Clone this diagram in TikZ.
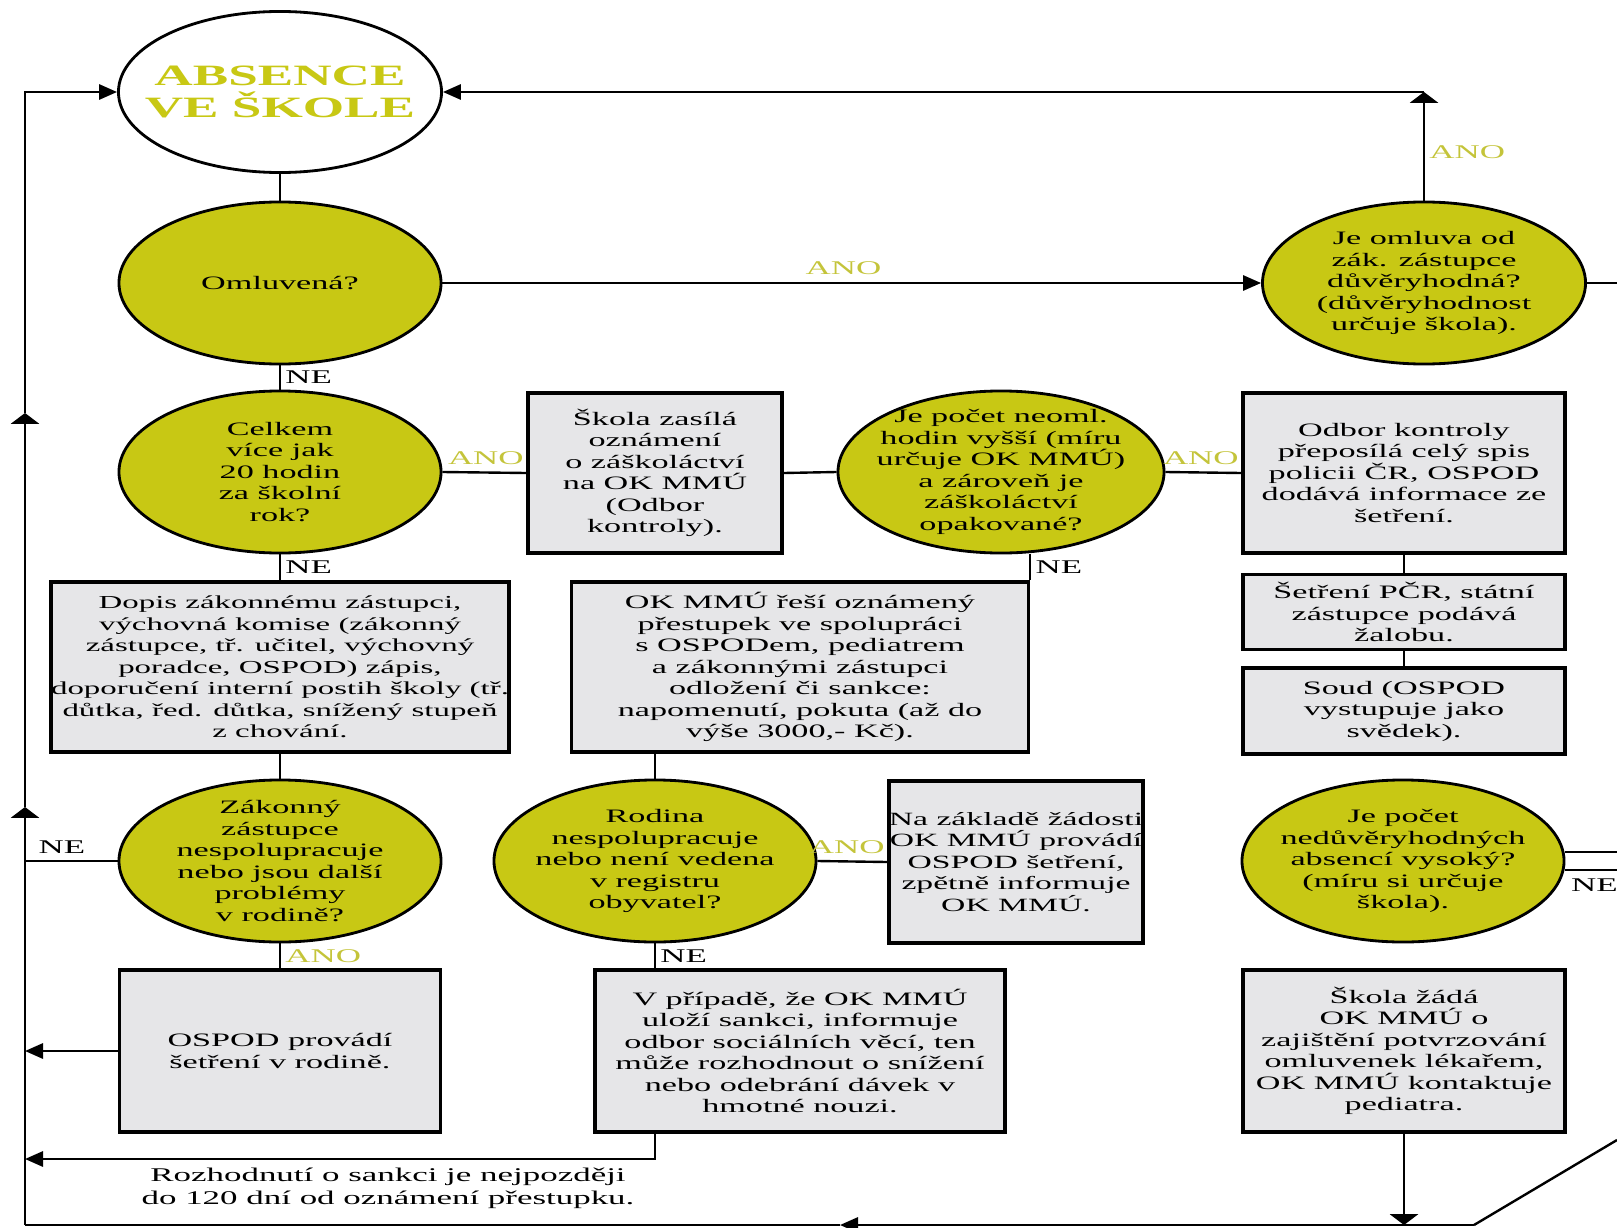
\documentclass[tikz,border=0pt]{standalone}
\usepackage{fontspec}
\setmainfont{Liberation Serif}[FakeStretch=1.8]
\usepackage{tikz}
\usetikzlibrary{arrows.meta, positioning, shapes.geometric}
\definecolor{oliveFill}{HTML}{C8C814}
\definecolor{answerColor}{HTML}{C4C43A}
\definecolor{boxFill}{HTML}{E6E6E8}
\tikzset{
  decision/.style={ellipse, draw, line width=2pt, fill=oliveFill, minimum width=8.05cm, minimum height=4.05cm, inner sep=0pt},
  qtext/.style={align=center, font=\fontsize{13.5}{15.3}\selectfont},
  actbox/.style={rectangle, draw, line width=2.4pt, fill=boxFill, align=center, inner sep=0pt, font=\fontsize{13.5}{15.3}\selectfont},
  conn/.style={line width=1.7pt},
  harr/.style={conn, -{Triangle[length=0.45cm, width=0.38cm]}},
  varr/.style={conn, -{Triangle[length=0.27cm, width=0.7cm]}},
  ano/.style={text=answerColor, font=\fontsize{13.8}{15.3}\selectfont, inner sep=1pt},
  ne/.style={font=\fontsize{13.8}{15.3}\selectfont, inner sep=1pt},
}

\begin{document}
\begin{tikzpicture}[x=0.025cm, y=-0.025cm]
    \useasboundingbox (0,0) rectangle (1617,1228);

    % start
    \node[ellipse, draw, line width=2pt, fill=white, minimum width=8.075cm, minimum height=4.025cm, inner sep=0pt,
          label={[align=center, text=oliveFill, font=\bfseries\fontsize{21}{22.8}\selectfont]center:{ABSENCE\\VE ŠKOLE}}] (start) at (280,92) {};

    % questions
    \node[decision, label={[qtext]center:Omluvená?}] (q1) at (280,283) {};
    \node[decision, minimum width=8.075cm, label={[qtext]center:{Je omluva od\\zák. zástupce\\důvěryhodná?\\(důvěryhodnost\\určuje škola).}}] (q2) at (1424,283) {};
    \node[decision, label={[qtext]center:{Celkem\\více jak\\20 hodin\\za školní\\rok?}}] (q3) at (280,472) {};
    \node[decision, minimum width=8.15cm, label={[qtext]center:{Je počet neoml.\\hodin vyšší (míru\\určuje OK MMÚ)\\a zároveň je\\záškoláctví\\opakované?}}] (q4) at (1001,472) {};
    \node[decision, label={[qtext]center:{Zákonný\\zástupce\\nespolupracuje\\nebo jsou další\\problémy\\v rodině?}}] (q5) at (280,861) {};
    \node[decision, label={[qtext]center:{Rodina\\nespolupracuje\\nebo není vedena\\v registru\\obyvatel?}}] (q6) at (655,861) {};
    \node[decision, label={[qtext]center:{Je počet\\nedůvěryhodných\\absencí vysoký?\\(míru si určuje\\škola).}}] (q7) at (1403,861) {};

    % boxes
    \node[actbox, minimum width=6.35cm, minimum height=4cm] (b1) at (655,473) {Škola zasílá\\oznámení\\o záškoláctví\\na OK MMÚ\\(Odbor\\kontroly).};
    \node[actbox, minimum width=8.05cm, minimum height=4cm] (b2) at (1404,473) {Odbor kontroly\\přeposílá celý spis\\policii ČR, OSPOD\\dodává informace ze\\šetření.};
    \node[actbox, minimum width=8.05cm, minimum height=1.875cm] (b3) at (1404,612) {Šetření PČR, státní\\zástupce podává\\žalobu.};
    \node[actbox, minimum width=8.05cm, minimum height=2.15cm] (b4) at (1404,711) {Soud (OSPOD\\vystupuje jako\\svědek).};
    \node[actbox, minimum width=11.4cm, minimum height=4.25cm, font=\fontsize{13}{15.3}\selectfont] (b5) at (280,667) {Dopis zákonnému zástupci,\\výchovná komise (zákonný\\zástupce, tř. učitel, výchovný\\poradce, OSPOD) zápis,\\doporučení interní postih školy (tř.\\důtka, řed. důtka, snížený stupeň\\z chování.};
    \node[actbox, minimum width=11.425cm, minimum height=4.25cm] (b6) at (800,667) {OK MMÚ řeší oznámený\\přestupek ve spolupráci\\s OSPODem, pediatrem\\a zákonnými zástupci\\odložení či sankce:\\napomenutí, pokuta (až do\\výše 3000,- Kč).};
    \node[actbox, minimum width=6.25cm, minimum height=4.05cm, font=\fontsize{13.3}{15.3}\selectfont] (b7) at (1016,862) {Na základě žádosti\\OK MMÚ provádí\\OSPOD šetření,\\zpětně informuje\\OK MMÚ.};
    \node[actbox, minimum width=8.025cm, minimum height=4.05cm] (b8) at (280,1051) {OSPOD provádí\\šetření v rodině.};
    \node[actbox, minimum width=10.25cm, minimum height=4.05cm] (b9) at (800,1051) {V případě, že OK MMÚ\\uloží sankci, informuje\\odbor sociálních věcí, ten\\může rozhodnout o snížení\\nebo odebrání dávek v\\hmotné nouzi.};
    \node[actbox, minimum width=8.05cm, minimum height=4.05cm] (b10) at (1404,1051) {Škola žádá\\OK MMÚ o\\zajištění potvrzování\\omluvenek lékařem,\\OK MMÚ kontaktuje\\pediatra.};

    \node[qtext, font=\fontsize{13.8}{16.5}\selectfont] (deadline) at (388,1188) {Rozhodnutí o sankci je nejpozději\\do 120 dní od oznámení přestupku.};

    % loose ends
    \coordinate (lt) at (25,92);
    \coordinate (lb) at (25,1225);
    \coordinate (lm1) at (25,807);
    \coordinate (lm2) at (25,413);
    \coordinate (fb) at (655,1159);
    \coordinate (bm) at (840,1225);
    \coordinate (bd) at (1474,1225);
    \coordinate (re1) at (1617,283);
    \coordinate (re2) at (1617,852);
    \coordinate (re3) at (1617,870);
    \coordinate (re4) at (1617,1140);
    \coordinate (tr) at (q2.north |- start.east);

    % connectors
    \draw[conn] (start) -- (q1);
    \draw[conn] (q1) -- (q3) node[ne, midway, right, xshift=2pt] {NE};
    \draw[harr] (q1.east) -- (q2.west) node[ano, pos=0.49, anchor=base, yshift=0.22cm] {ANO};
    \draw[varr] (q2.north) -- (tr) node[ano, pos=0.45, right, xshift=2pt] {ANO};
    \draw[harr] (tr) -- (start.east);
    \draw[conn] (q2.east) -- (re1);
    \draw[conn] (q3.east) -- (b1.west) node[ano, anchor=base east, yshift=0.22cm] {ANO};
    \draw[conn] (b1.east) -- (q4.west);
    \draw[conn] (q4.east) -- (b2.west) node[ano, anchor=base east, yshift=0.22cm] {ANO};
    \draw[conn] (b2) -- (b3);
    \draw[conn] (b3) -- (b4);
    \draw[conn] (b6.north east |- q4.south) -- (b6.north east) node[ne, midway, right, xshift=2pt] {NE};
    \draw[conn] (q3) -- (b5) node[ne, midway, right, xshift=2pt] {NE};
    \draw[conn] (b5) -- (q5);
    \draw[conn] (q6.north |- b6.south) -- (q6.north);
    \draw[conn] (q5.west) -- (q5.west -| lb) node[ne, pos=0.6, anchor=base, yshift=0.2cm] {NE};
    \draw[conn] (q5) -- (b8) node[ano, midway, right, xshift=2pt] {ANO};
    \draw[harr] (b8.west) -- (b8.west -| lb);
    \draw[conn] (q6.east) -- (b7.west) node[ano, anchor=base east, yshift=0.22cm] {ANO};
    \draw[conn] (q6.south) -- (q6.south |- b9.north) node[ne, midway, right, xshift=2pt] {NE};
    \draw[harr] (b9.south -| fb) -- (fb) -- (fb -| lb);
    \draw[conn] (q7.east |- re2) -- (re2);
    \draw[conn] (q7.east |- re3) -- (re3) node[ne, pos=0.56, below, yshift=-0.15cm] {NE};
    \draw[varr] (b10.south) -- (b10.south |- lb);

    % return line
    \draw[harr] (bd) -- (bm);
    \draw[conn] (bm) -- (lb);
    \draw[conn] (bd) -- (re4);
    \draw[varr] (lb) -- (lm1);
    \draw[varr] (lm1) -- (lm2);
    \draw[harr] (lm2) -- (lt) -- (start.west);
\end{tikzpicture}
\end{document}
